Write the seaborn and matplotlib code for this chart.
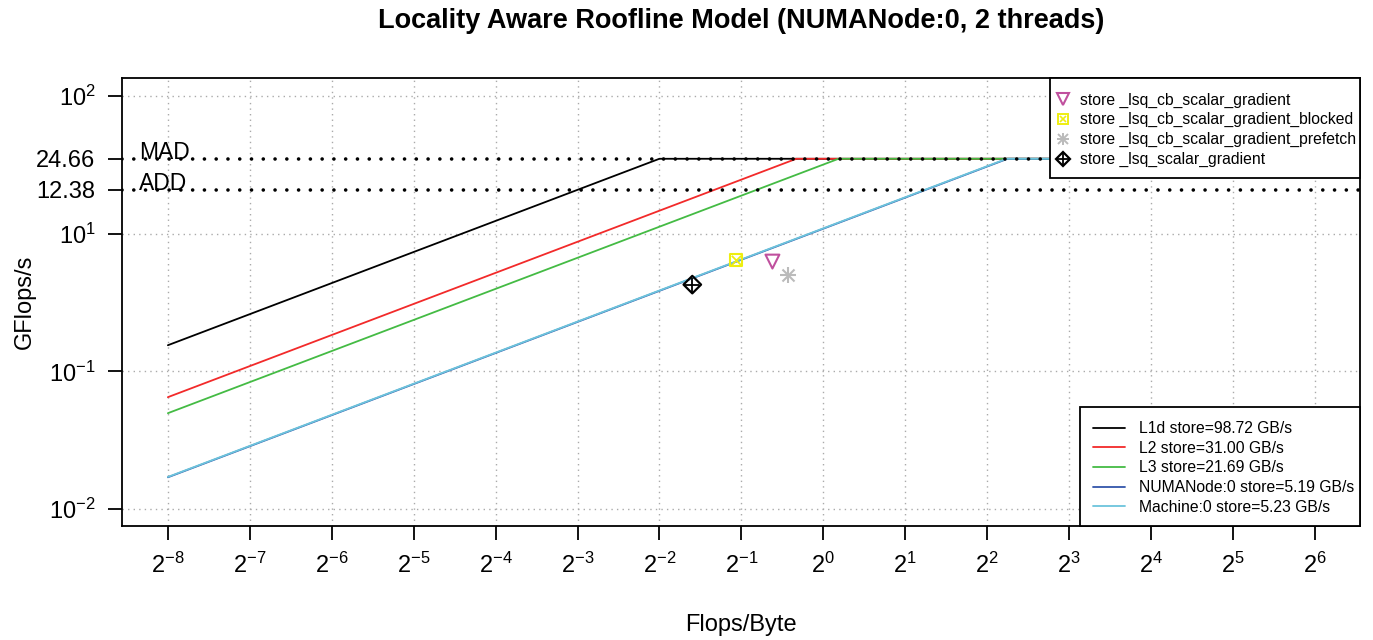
import numpy as np
import pandas as pd
import matplotlib
matplotlib.use("Agg")
import matplotlib.pyplot as plt
from matplotlib.lines import Line2D
from matplotlib.patches import Rectangle
from matplotlib.legend_handler import HandlerTuple
import seaborn as sns

# ---- data ----
mem_names = ["L1d store=98.72 GB/s", "L2 store=31.00 GB/s", "L3 store=21.69 GB/s",
             "NUMANode:0 store=5.19 GB/s", "Machine:0 store=5.23 GB/s"]
mem_bw = [98.72, 31.00, 21.69, 5.19, 5.23]
mem_colors = ["#000000", "#F22A2A", "#44BB44", "#3355AA", "#6CC4DC"]
peak_mad = 24.66
peak_add = 12.38
x_start = 2.0 ** -8
x_end = 2.0 ** 6.5

pt_names = ["store _lsq_cb_scalar_gradient", "store _lsq_cb_scalar_gradient_blocked",
            "store _lsq_cb_scalar_gradient_prefetch", "store _lsq_scalar_gradient"]
pt_x = [0.65, 0.476, 0.74, 0.33]
pt_y = [2.49, 2.60, 1.83, 1.49]
pt_colors = ["#C0509E", "#EEEE10", "#BBBBBB", "#000000"]

xtick_exp = list(range(-8, 7))
ytick_vals = [100.0, 10 ** (2 / 3), peak_mad, peak_add, 10 ** (-2 / 3), 0.01]
ytick_labels = [r"$10^{2}$", r"$10^{1}$", "24.66", "12.38", r"$10^{-1}$", r"$10^{-2}$"]
ygrid_vals = [100.0, 10 ** (2 / 3), 10 ** (-2 / 3), 0.01]

# ---- style ----
sns.set_theme(style="white")
plt.rcParams["font.family"] = ["Liberation Sans", "DejaVu Sans"]
plt.rcParams["mathtext.fontset"] = "custom"
plt.rcParams["mathtext.rm"] = "Liberation Sans"
plt.rcParams["mathtext.it"] = "Liberation Sans"
plt.rcParams["mathtext.default"] = "regular"
for k in ["text.color", "axes.labelcolor", "xtick.color", "ytick.color"]:
    plt.rcParams[k] = "black"

W, H = 1373, 640
AX_L, AX_R, AX_T, AX_B = 122, 1360, 78, 526


def ax_frac(px, py):
    return (px - AX_L) / (AX_R - AX_L), (AX_B - py) / (AX_B - AX_T)


fig = plt.figure(figsize=(13.73, 6.4), dpi=100)
ax = fig.add_axes([AX_L / W, 1 - AX_B / H, (AX_R - AX_L) / W, (AX_B - AX_T) / H])
ax.set_xscale("log", base=2)
ax.set_yscale("log")
ax.set_xlim(2 ** -8.56, 2 ** 6.55)
ax.set_ylim(10 ** (-2 - 17 / 103.25), 10 ** (2 + 18 / 103.25))

# grid
for e in xtick_exp:
    ax.axvline(2.0 ** e, color="#AAAAAA", lw=1.0, ls=(0, (1, 3)), zorder=0)
for v in ygrid_vals:
    ax.axhline(v, color="#AAAAAA", lw=1.0, ls=(0, (1, 3)), zorder=0)

# roofline lines
rows = []
for name, bw in zip(mem_names, mem_bw):
    ridge = peak_mad / bw
    for i, (xx, yy) in enumerate([(x_start, bw * x_start), (ridge, peak_mad), (x_end, peak_mad)]):
        rows.append({"mem": name, "x": xx, "y": yy, "order": i})
df = pd.DataFrame(rows)
sns.lineplot(data=df, x="x", y="y", hue="mem", hue_order=mem_names,
             palette=dict(zip(mem_names, mem_colors)), estimator=None, sort=False,
             units="mem", lw=1.3, legend=False, ax=ax, zorder=3)

# peaks
for val, lab in [(peak_mad, "MAD"), (peak_add, "ADD")]:
    ax.axhline(val, color="black", lw=2.6, ls=(0, (0.01, 3.25)), dash_capstyle="round", zorder=4)
    ax.text(2 ** -8.35, val, lab, fontsize=16.5, va="baseline", ha="left", zorder=5)

# points
ms = 100
sns.scatterplot(x=[pt_x[0]], y=[pt_y[0]], marker="v", s=ms, facecolors="none",
                edgecolor=pt_colors[0], linewidth=1.5, ax=ax, zorder=6)
sns.scatterplot(x=[pt_x[1]], y=[pt_y[1]], marker="s", s=ms * 0.75, facecolors="none",
                edgecolor=pt_colors[1], linewidth=1.5, ax=ax, zorder=6)
sns.scatterplot(x=[pt_x[1]], y=[pt_y[1]], marker="x", s=ms * 0.45, color=pt_colors[1],
                linewidth=1.3, ax=ax, zorder=6)
sns.scatterplot(x=[pt_x[2]], y=[pt_y[2]], marker="+", s=ms * 1.3, color=pt_colors[2],
                linewidth=1.5, ax=ax, zorder=6)
sns.scatterplot(x=[pt_x[2]], y=[pt_y[2]], marker="x", s=ms * 0.75, color=pt_colors[2],
                linewidth=1.5, ax=ax, zorder=6)
sns.scatterplot(x=[pt_x[3]], y=[pt_y[3]], marker="D", s=ms * 0.8, facecolors="none",
                edgecolor=pt_colors[3], linewidth=1.6, ax=ax, zorder=6)
sns.scatterplot(x=[pt_x[3]], y=[pt_y[3]], marker="+", s=ms * 1.1, color=pt_colors[3],
                linewidth=1.3, ax=ax, zorder=6)

# ticks
ax.set_xticks([2.0 ** e for e in xtick_exp])
ax.set_xticklabels([r"$2^{%d}$" % e for e in xtick_exp])
ax.minorticks_off()
ax.set_yticks(ytick_vals)
ax.set_yticklabels(ytick_labels)
ax.minorticks_off()
ax.tick_params(axis="both", which="major", direction="out", length=10, width=1.3,
               labelsize=17, color="black", left=True, bottom=True)
ax.tick_params(axis="x", pad=9)
ax.tick_params(axis="y", pad=9)
for s in ax.spines.values():
    s.set_color("black")
    s.set_linewidth(1.3)

ax.set_xlabel("Flops/Byte", fontsize=17, labelpad=26)
ax.set_ylabel("GFlops/s", fontsize=17, labelpad=0.5)
fig.text((AX_L + AX_R) / 2 / W, 1 - 28.5 / H, "Locality Aware Roofline Model (NUMANode:0, 2 threads)",
         ha="center", va="baseline", fontsize=19.5, fontweight="bold")

# legend frames (drawn as white boxes)
for (x0, y0, x1, y1) in [(1050, 78, 1360, 178), (1080, 407, 1360, 526)]:
    fx0, fy1 = ax_frac(x0, y0)
    fx1, fy0 = ax_frac(x1, y1)
    ax.add_patch(Rectangle((fx0, fy0), fx1 - fx0, fy1 - fy0, transform=ax.transAxes,
                           facecolor="white", edgecolor="black", lw=1.3, zorder=9,
                           clip_on=False))

# legends
pt_handles = [
    Line2D([], [], marker="v", ls="none", mfc="none", mec=pt_colors[0], ms=8, mew=1.5),
    (Line2D([], [], marker="s", ls="none", mfc="none", mec=pt_colors[1], ms=6.5, mew=1.4),
     Line2D([], [], marker="x", ls="none", color=pt_colors[1], ms=5, mew=1.2)),
    (Line2D([], [], marker="+", ls="none", color=pt_colors[2], ms=9, mew=1.4),
     Line2D([], [], marker="x", ls="none", color=pt_colors[2], ms=7, mew=1.4)),
    (Line2D([], [], marker="D", ls="none", mfc="none", mec=pt_colors[3], ms=7, mew=1.6),
     Line2D([], [], marker="+", ls="none", color=pt_colors[3], ms=9, mew=1.3)),
]
leg1 = ax.legend(pt_handles, pt_names, loc="upper left", bbox_to_anchor=ax_frac(1058, 92.5),
                 borderaxespad=0, borderpad=0, fontsize=11.3, frameon=False,
                 handlelength=0.6, handletextpad=0.8, labelspacing=0.3,
                 handler_map={tuple: HandlerTuple(ndivide=1, pad=0)})
ax.add_artist(leg1)

line_handles = [Line2D([], [], color=c, lw=1.3) for c in mem_colors]
leg2 = ax.legend(line_handles, mem_names, loc="upper left", bbox_to_anchor=ax_frac(1093, 421),
                 borderaxespad=0, borderpad=0, fontsize=11.3, frameon=False,
                 handlelength=2.04, handletextpad=0.9, labelspacing=0.3)
leg1.set_zorder(10)
leg2.set_zorder(10)

fig.savefig("out.png", dpi=100)
